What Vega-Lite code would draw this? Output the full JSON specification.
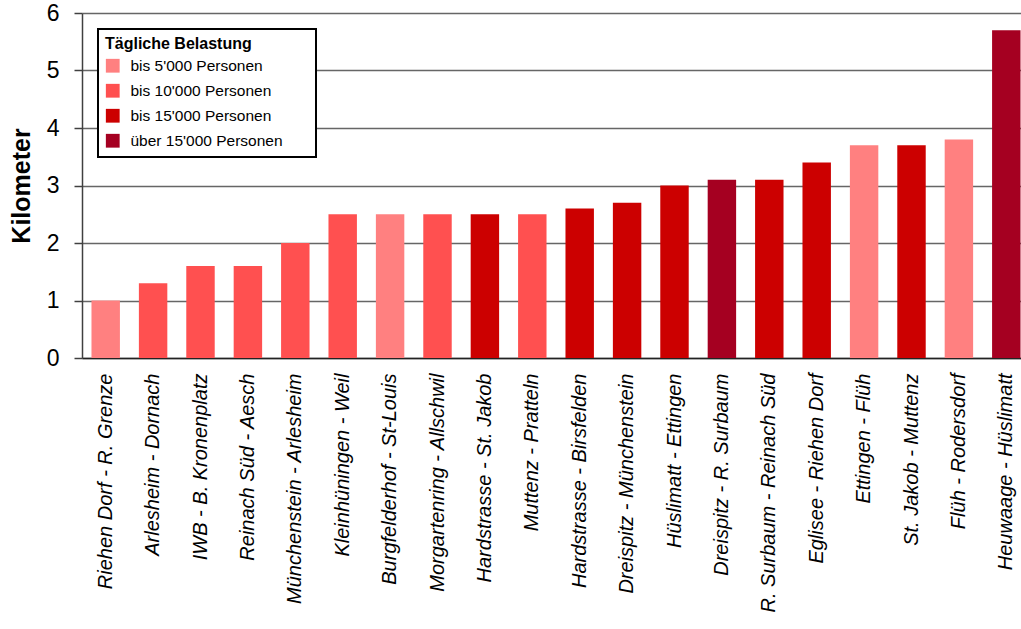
{
  "$schema": "https://vega.github.io/schema/vega-lite/v6.json",
  "width": 948,
  "height": 345,
  "padding": {"left": 9, "top": 2, "right": 0, "bottom": 0},
  "background": "white",
  "config": {
    "view": {"stroke": null},
    "font": "Liberation Sans"
  },
  "data": {
    "values": [
      {"strecke": "Riehen Dorf - R. Grenze", "km": 1.0, "belastung": "bis 5'000 Personen"},
      {"strecke": "Arlesheim - Dornach", "km": 1.3, "belastung": "bis 10'000 Personen"},
      {"strecke": "IWB - B. Kronenplatz", "km": 1.6, "belastung": "bis 10'000 Personen"},
      {"strecke": "Reinach Süd - Aesch", "km": 1.6, "belastung": "bis 10'000 Personen"},
      {"strecke": "Münchenstein - Arlesheim", "km": 2.0, "belastung": "bis 10'000 Personen"},
      {"strecke": "Kleinhüningen - Weil", "km": 2.5, "belastung": "bis 10'000 Personen"},
      {"strecke": "Burgfelderhof - St-Louis", "km": 2.5, "belastung": "bis 5'000 Personen"},
      {"strecke": "Morgartenring - Allschwil", "km": 2.5, "belastung": "bis 10'000 Personen"},
      {"strecke": "Hardstrasse - St. Jakob", "km": 2.5, "belastung": "bis 15'000 Personen"},
      {"strecke": "Muttenz - Pratteln", "km": 2.5, "belastung": "bis 10'000 Personen"},
      {"strecke": "Hardstrasse - Birsfelden", "km": 2.6, "belastung": "bis 15'000 Personen"},
      {"strecke": "Dreispitz - Münchenstein", "km": 2.7, "belastung": "bis 15'000 Personen"},
      {"strecke": "Hüslimatt - Ettingen", "km": 3.0, "belastung": "bis 15'000 Personen"},
      {"strecke": "Dreispitz - R. Surbaum", "km": 3.1, "belastung": "über 15'000 Personen"},
      {"strecke": "R. Surbaum - Reinach Süd", "km": 3.1, "belastung": "bis 15'000 Personen"},
      {"strecke": "Eglisee - Riehen Dorf", "km": 3.4, "belastung": "bis 15'000 Personen"},
      {"strecke": "Ettingen - Flüh", "km": 3.7, "belastung": "bis 5'000 Personen"},
      {"strecke": "St. Jakob - Muttenz", "km": 3.7, "belastung": "bis 15'000 Personen"},
      {"strecke": "Flüh - Rodersdorf", "km": 3.8, "belastung": "bis 5'000 Personen"},
      {"strecke": "Heuwaage - Hüslimatt", "km": 5.7, "belastung": "über 15'000 Personen"}
    ]
  },
  "mark": {"type": "bar"},
  "encoding": {
    "x": {
      "field": "strecke",
      "type": "nominal",
      "sort": null,
      "scale": {"paddingInner": 0.4, "paddingOuter": 0.2},
      "axis": {
        "title": null,
        "labelAngle": -90,
        "labelAlign": "right",
        "labelBaseline": "middle",
        "labelFontSize": 20,
        "labelFontStyle": "italic",
        "labelColor": "black",
        "labelPadding": 15,
        "labelLimit": 400,
        "ticks": false,
        "domainColor": "#222222",
        "domainWidth": 1.5
      }
    },
    "y": {
      "field": "km",
      "type": "quantitative",
      "stack": null,
      "scale": {"domain": [0, 6], "nice": false},
      "axis": {
        "title": "Kilometer",
        "titleFontSize": 25,
        "titleFontWeight": "bold",
        "titleColor": "black",
        "titlePadding": 12,
        "values": [0, 1, 2, 3, 4, 5, 6],
        "labelFontSize": 23,
        "labelColor": "black",
        "labelPadding": 15,
        "tickSize": 8,
        "tickColor": "#404040",
        "tickWidth": 1.5,
        "domainColor": "#404040",
        "domainWidth": 1.5,
        "grid": true,
        "gridColor": "#666666",
        "gridWidth": 1.5
      }
    },
    "color": {
      "field": "belastung",
      "type": "nominal",
      "scale": {
        "domain": ["bis 5'000 Personen", "bis 10'000 Personen", "bis 15'000 Personen", "über 15'000 Personen"],
        "range": ["#FF8080", "#FF5050", "#CC0000", "#A50021"]
      },
      "legend": {
        "title": "Tägliche Belastung",
        "orient": "none",
        "legendX": 16,
        "legendY": 16,
        "padding": 7,
        "strokeColor": "black",
        "fillColor": "white",
        "titleFontSize": 16,
        "titleFontWeight": "bold",
        "titleColor": "black",
        "titlePadding": 6,
        "labelFontSize": 15.5,
        "labelColor": "black",
        "labelLimit": 400,
        "labelExpr": "datum.label + '\u00a0\u00a0\u00a0\u00a0\u00a0\u00a0\u200b'",
        "symbolType": "square",
        "symbolSize": 190,
        "symbolStrokeWidth": 0,
        "rowPadding": 8,
        "labelOffset": 10,
        "encode": {"legend": {"update": {"strokeWidth": {"value": 2}}}}
      }
    }
  }
}
